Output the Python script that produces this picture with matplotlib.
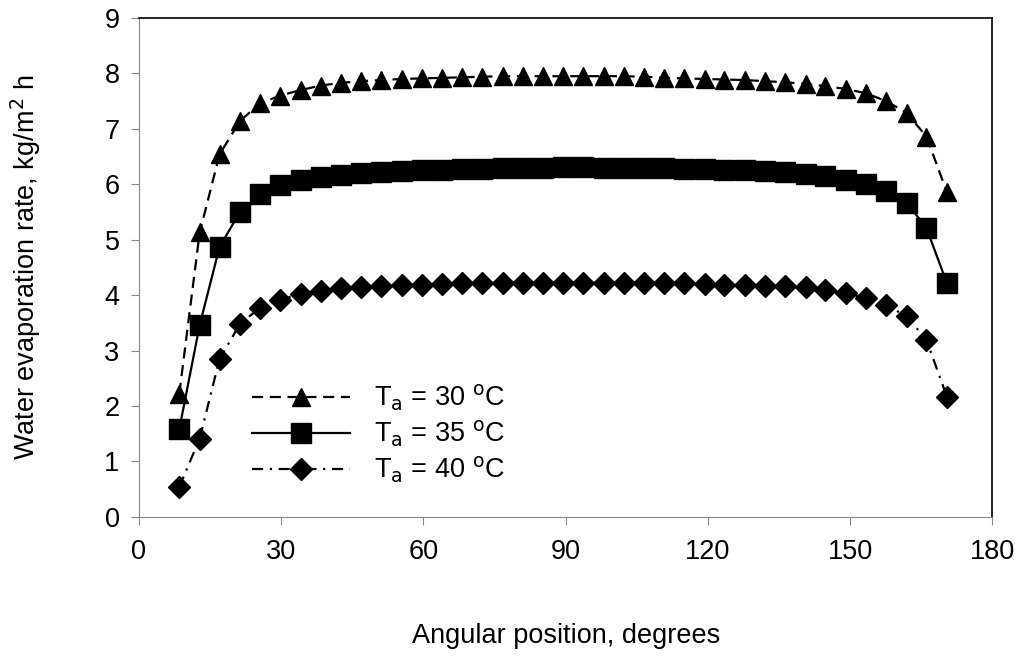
import matplotlib.pyplot as plt

plt.rcParams['font.family'] = ['Liberation Sans', 'DejaVu Sans']

# angular positions, degrees
angle = [8.5, 12.8, 17.0, 21.3, 25.5, 29.8, 34.1, 38.3, 42.6, 46.9,
         51.1, 55.4, 59.6, 63.9, 68.2, 72.4, 76.7, 80.9, 85.2, 89.5,
         93.7, 98.0, 102.2, 106.5, 110.8, 115.0, 119.3, 123.5, 127.8, 132.1,
         136.3, 140.6, 144.8, 149.1, 153.4, 157.6, 161.9, 166.1, 170.4]

# water evaporation rate, kg/m2 h
t30 = [2.22, 5.13, 6.54, 7.14, 7.46, 7.60, 7.70, 7.78, 7.83, 7.86,
       7.88, 7.90, 7.91, 7.92, 7.93, 7.94, 7.95, 7.95, 7.95, 7.95,
       7.95, 7.95, 7.95, 7.94, 7.92, 7.91, 7.90, 7.89, 7.88, 7.86,
       7.84, 7.81, 7.77, 7.72, 7.64, 7.50, 7.29, 6.86, 5.86]
t35 = [1.58, 3.46, 4.87, 5.50, 5.82, 5.98, 6.07, 6.13, 6.17, 6.20,
       6.22, 6.24, 6.25, 6.26, 6.27, 6.28, 6.29, 6.29, 6.30, 6.31,
       6.31, 6.30, 6.29, 6.29, 6.29, 6.28, 6.28, 6.26, 6.25, 6.24,
       6.22, 6.19, 6.15, 6.08, 6.01, 5.87, 5.67, 5.21, 4.22]
t40 = [0.54, 1.41, 2.85, 3.48, 3.77, 3.92, 4.02, 4.08, 4.12, 4.15,
       4.17, 4.18, 4.19, 4.20, 4.21, 4.22, 4.22, 4.22, 4.22, 4.22,
       4.22, 4.22, 4.22, 4.22, 4.21, 4.21, 4.20, 4.19, 4.18, 4.17,
       4.16, 4.14, 4.09, 4.03, 3.95, 3.82, 3.62, 3.19, 2.17]

fig = plt.figure(figsize=(10.22, 6.66), dpi=100)
ax = fig.add_axes([0.136, 0.224, 0.835, 0.749])

ax.plot(angle, t30, color='black', lw=1.6, dashes=(5, 3),
        marker='^', ms=13, label='T$_\\mathrm{a}$ = 30 $^\\mathrm{o}$C')
ax.plot(angle, t35, color='black', lw=1.6, ls='-',
        marker='s', ms=14, label='T$_\\mathrm{a}$ = 35 $^\\mathrm{o}$C')
ax.plot(angle, t40, color='black', lw=1.6, dashes=(5, 3, 1, 3),
        marker='D', ms=11, label='T$_\\mathrm{a}$ = 40 $^\\mathrm{o}$C')

ax.set_xlim(0, 180)
ax.set_ylim(0, 9)
ax.set_xticks(range(0, 181, 30))
ax.set_yticks(range(0, 10))

for s in ['left', 'bottom']:
    ax.spines[s].set_color('#868686')
for s in ['top', 'right']:
    ax.spines[s].set_color('black')
    ax.spines[s].set_linewidth(1.2)
ax.tick_params(direction='out', length=6, color='#868686', labelsize=19.5)
ax.tick_params(axis='x', pad=10)
ax.tick_params(axis='y', pad=8)

ax.set_xlabel('Angular position, degrees', fontsize=19.5, labelpad=42)
ax.set_ylabel('Water evaporation rate, kg/m$^2$ h', fontsize=19.5, labelpad=44)

ax.legend(loc='upper left', bbox_to_anchor=(0.12, 0.29), frameon=False,
          fontsize=19.5, numpoints=1, handlelength=3.6, handletextpad=0.9,
          labelspacing=0.2, borderaxespad=0)

fig.savefig('out.png', dpi=100)
